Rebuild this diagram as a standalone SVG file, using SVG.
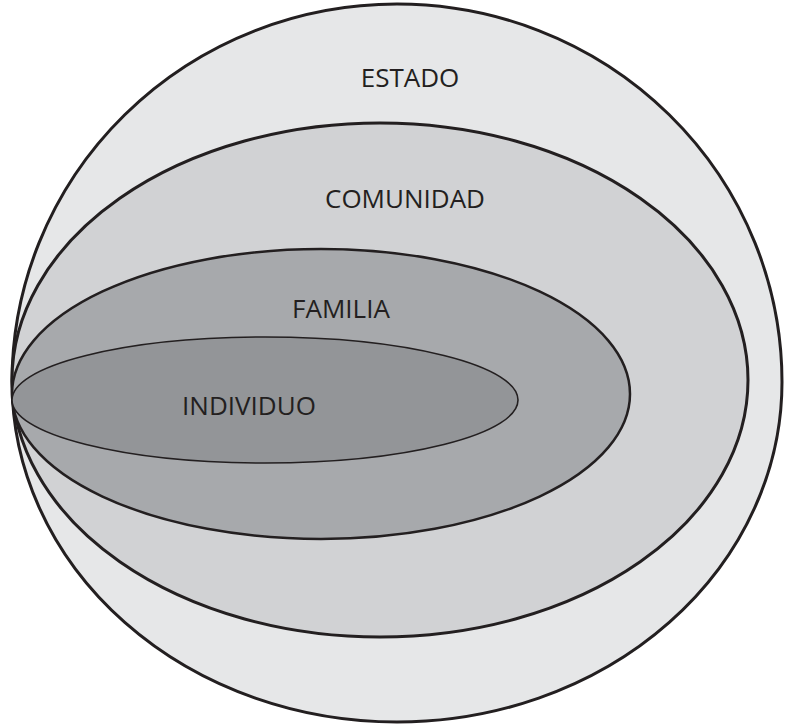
<svg xmlns="http://www.w3.org/2000/svg" width="785" height="725" viewBox="0 0 785 725">
<style>
.e{stroke:#231f20;}
.t{font-family:"Open Sans","Liberation Sans",sans-serif;font-size:26px;fill:#231f20;text-anchor:middle;}
</style>
<rect width="785" height="725" fill="#ffffff"/>
<g id="estado">
<path class="e" d="M12,382 A385,378 0 0 1 397,4 A385,378 0 0 1 782,382 A385,340 0 0 1 397,722 A385,340 0 0 1 12,382 Z" fill="#e6e7e8" stroke-width="3"/>
<text class="t" x="410" y="87">ESTADO</text>
</g>
<g id="comunidad">
<ellipse class="e" cx="380" cy="380" rx="368" ry="257" fill="#d1d2d4" stroke-width="3"/>
<text class="t" x="405" y="208">COMUNIDAD</text>
</g>
<g id="familia">
<ellipse class="e" cx="321" cy="394" rx="309" ry="145" fill="#a7a9ac" stroke-width="2.5"/>
<text class="t" x="341" y="318">FAMILIA</text>
</g>
<g id="individuo">
<ellipse class="e" cx="265" cy="400" rx="253" ry="63" fill="#939598" stroke-width="1.6"/>
<text class="t" x="249" y="415">INDIVIDUO</text>
</g>
<g id="connectors"/>
</svg>
